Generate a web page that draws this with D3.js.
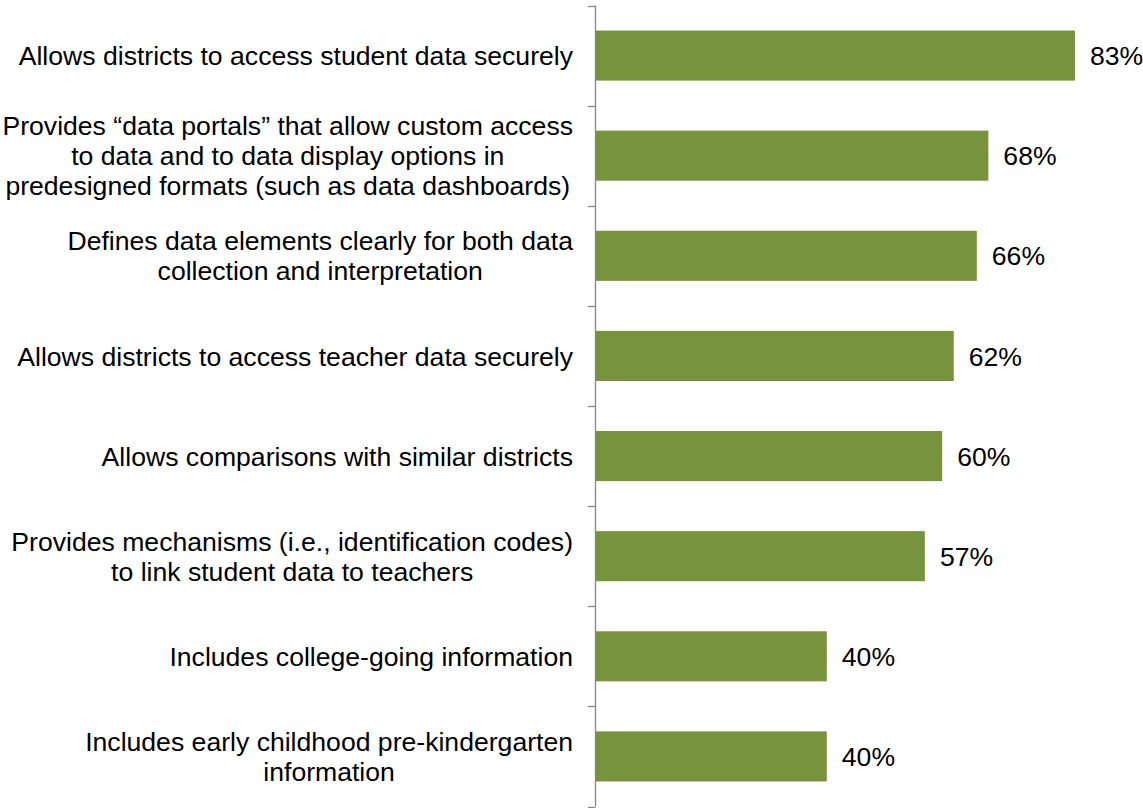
<!DOCTYPE html>
<html>
<head>
<meta charset="utf-8">
<script src="https://cdn.jsdelivr.net/npm/d3@7"></script>
<style>
  body { margin: 0; background: #fff; }
  text { font-family: "Liberation Sans", Arial, sans-serif; fill: #000; }
</style>
</head>
<body>
<svg id="chart" width="1143" height="808"></svg>
<script>
// categories (each entry = lines of the label) and values in %
var categories = [
  ["Allows districts to access student data securely"],
  ["Provides \u201cdata portals\u201d that allow custom access", "to data and to data display options in", "predesigned formats (such as data dashboards)"],
  ["Defines data elements clearly for both data", "collection and interpretation"],
  ["Allows districts to access teacher data securely"],
  ["Allows comparisons with similar districts"],
  ["Provides mechanisms (i.e., identification codes)", "to link student data to teachers"],
  ["Includes college-going information"],
  ["Includes early childhood pre-kindergarten", "information"]
];
var values = [83, 68, 66, 62, 60, 57, 40, 40];

var bar_color = "#77933c";
var axis_color = "#868686";
var font_size = 26.6;
var line_height = 30;

var svg = d3.select("#chart");

// --------------------------------------------------------------------
// scales
var x = d3.scaleLinear()
          .domain([0, 100])
          .range([596, 1173]);

var y = d3.scaleBand()
          .domain(d3.range(categories.length))
          .range([5.5, 806.5])
          .paddingInner(0.5)
          .paddingOuter(0.25);

// --------------------------------------------------------------------
// bars
svg.selectAll(".bar")
   .data(values)
   .enter()
   .append("rect")
   .attr("class", "bar")
   .attr("x", x(0))
   .attr("y", function(d, i) { return y(i); })
   .attr("width", function(d) { return x(d) - x(0); })
   .attr("height", y.bandwidth())
   .style("fill", bar_color);

// value labels
svg.selectAll(".value")
   .data(values)
   .enter()
   .append("text")
   .attr("class", "value")
   .attr("x", function(d) { return x(d) + 15; })
   .attr("y", function(d, i) { return y(i) + y.bandwidth() / 2; })
   .attr("dy", "0.36em")
   .style("font-size", font_size + "px")
   .text(function(d) { return d + "%"; });

// --------------------------------------------------------------------
// y axis: vertical line with ticks at category boundaries
var boundaries = d3.range(categories.length + 1).map(function(i) { return y.range()[0] + i * y.step(); });

var axis = svg.append("g").attr("class", "y axis");

axis.append("line")
    .attr("x1", x(0) - 0.5).attr("x2", x(0) - 0.5)
    .attr("y1", boundaries[0]).attr("y2", boundaries[boundaries.length - 1])
    .style("stroke", axis_color)
    .style("stroke-width", 1.3);

axis.selectAll(".tick")
    .data(boundaries)
    .enter()
    .append("line")
    .attr("class", "tick")
    .attr("x1", x(0) - 8).attr("x2", x(0) - 0.5)
    .attr("y1", function(d) { return Math.round(d) + 0.5; })
    .attr("y2", function(d) { return Math.round(d) + 0.5; })
    .style("stroke", axis_color)
    .style("stroke-width", 1.3);

// category labels
var labels = svg.selectAll(".label")
   .data(categories)
   .enter()
   .append("text")
   .attr("class", "label")
   .attr("text-anchor", "middle")
   .style("font-size", font_size + "px")
   .attr("transform", function(d, i) {
     var cy = y(i) + y.bandwidth() / 2 - (d.length - 1) * line_height / 2;
     return "translate(0," + cy + ")";
   });

labels.selectAll("tspan")
   .data(function(d) { return d; })
   .enter()
   .append("tspan")
   .attr("dy", function(d, i) { return i == 0 ? "0.36em" : line_height + "px"; })
   .text(function(d) { return d; });

// center each label block, aligned to the right edge
labels.each(function() {
  var el = d3.select(this);
  var widths = [];
  el.selectAll("tspan").each(function() { widths.push(this.getComputedTextLength()); });
  var w = d3.max(widths);
  var cx = 573 - w / 2;
  el.selectAll("tspan").attr("x", cx);
});
</script>
</body>
</html>
